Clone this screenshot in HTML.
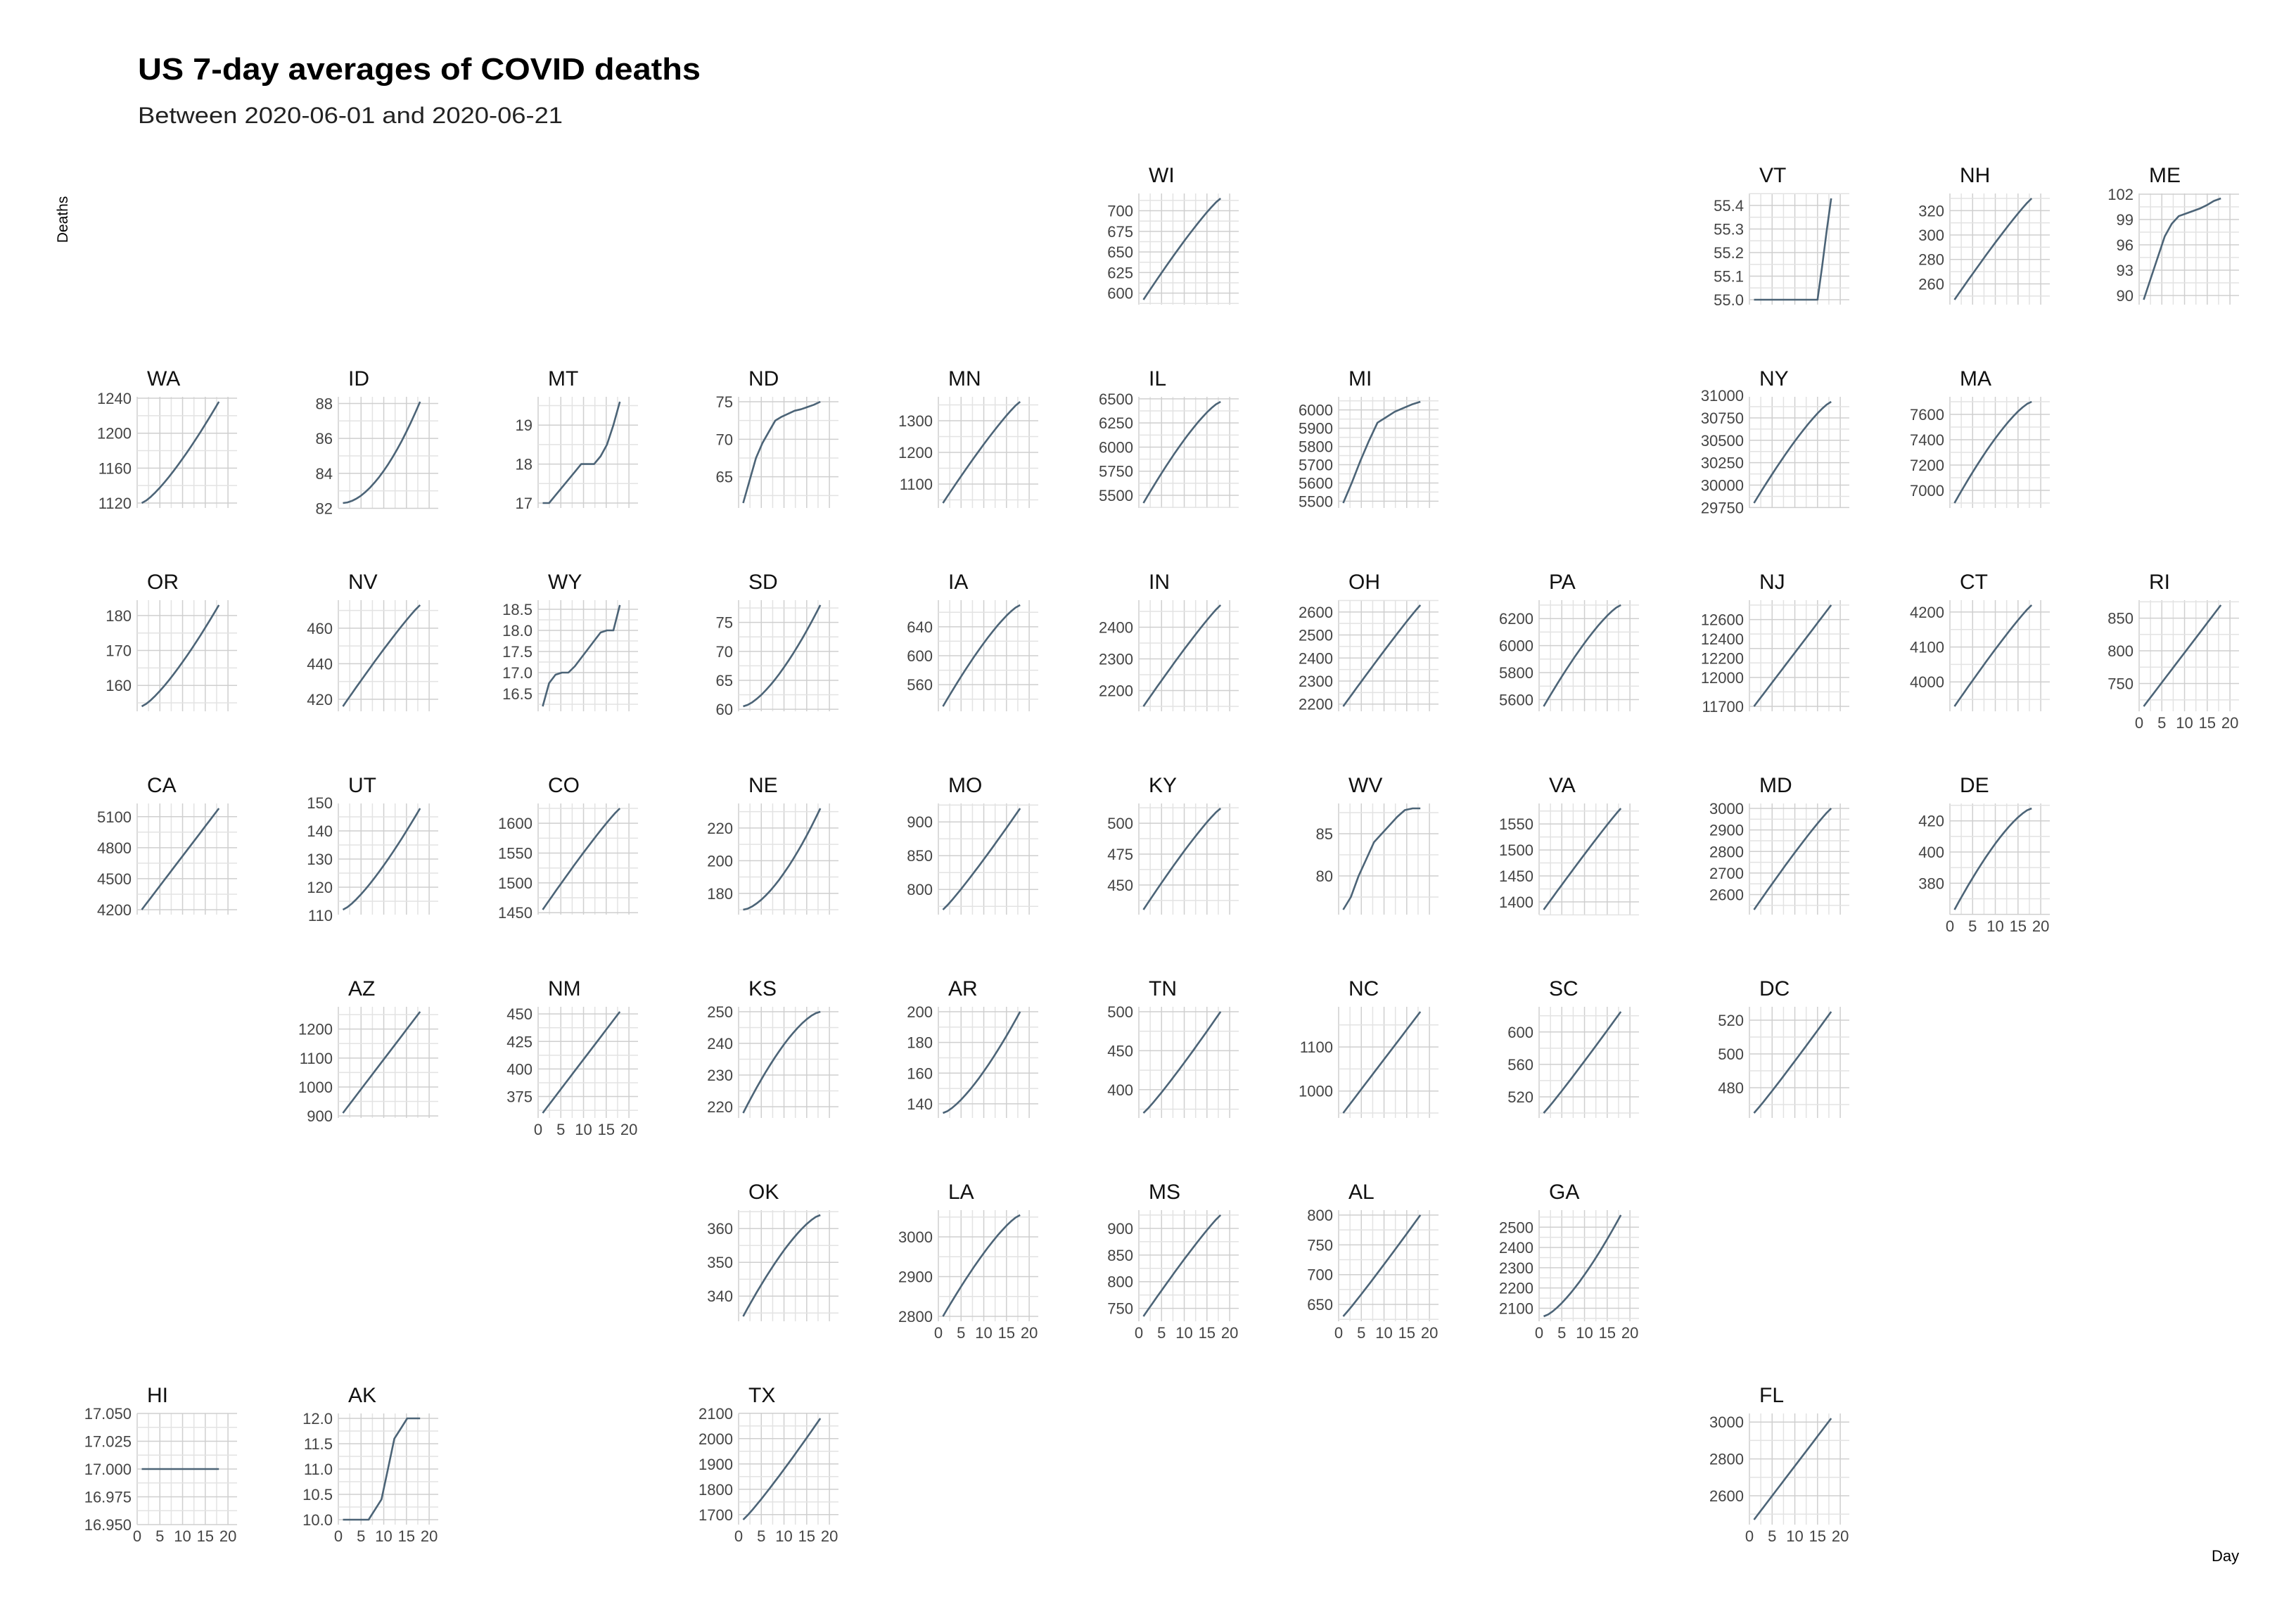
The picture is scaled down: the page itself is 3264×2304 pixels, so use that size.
<!DOCTYPE html>
<html><head><meta charset="utf-8"><style>
html,body{margin:0;padding:0;background:#fff}
svg{display:block}
</style></head><body>
<svg id="s" xmlns="http://www.w3.org/2000/svg" width="3264" height="2304" viewBox="0 0 3264 2304" font-family="'Liberation Sans', sans-serif">
<rect width="3264" height="2304" fill="#fff"/>
<text x="196" y="113" font-size="44" font-weight="bold" fill="#000" textLength="800" lengthAdjust="spacingAndGlyphs">US 7-day averages of COVID deaths</text>
<text x="196" y="175" font-size="32" fill="#222" textLength="604" lengthAdjust="spacingAndGlyphs">Between 2020-06-01 and 2020-06-21</text>
<text transform="translate(96,312) rotate(-90)" text-anchor="middle" font-size="21" fill="#000">Deaths</text>
<text x="3144" y="2219" font-size="22" fill="#000">Day</text>
<g id="g"></g>
</svg>
<script>
var colX=[195,481,765,1050,1334,1619,1903,2188,2487,2772,3041];
var W=142,H=158;
function rowY(r){return 275+289*r;}
function gen(a,b,p){var o=[];for(var i=0;i<18;i++){var t=i/17;var f=p>=0?Math.pow(t,1+p):1-Math.pow(1-t,1-p);o.push(a+(b-a)*f);}return o;}
var P=[
["WI",5,0,["600","625","650","675","700"],gen(592,715,-0.15)],
["VT",8,0,["55.0","55.1","55.2","55.3","55.4"],[55,55,55,55,55,55,55,55,55,55,55,55,55,55,55,55.14,55.29,55.43]],
["NH",9,0,["260","280","300","320"],gen(247,330,-0.1)],
["ME",10,0,["90","93","96","99","102"],[89.5,92,94.5,97,98.5,99.4,99.7,100,100.3,100.7,101.2,101.5]],
["WA",0,1,["1120","1160","1200","1240"],gen(1120,1236,0.3)],
["ID",1,1,["82","84","86","88"],gen(82.3,88.1,0.8)],
["MT",2,1,["17","18","19"],[17,17,17.2,17.4,17.6,17.8,18,18,18,18.2,18.5,19,19.6]],
["ND",3,1,["65","70","75"],[61.5,64.5,67.5,69.5,71,72.5,73,73.4,73.8,74,74.3,74.6,75]],
["MN",4,1,["1100","1200","1300"],gen(1040,1360,-0.15)],
["IL",5,1,["5500","5750","6000","6250","6500"],gen(5420,6470,-0.3)],
["MI",6,1,["5500","5600","5700","5800","5900","6000"],[5490,5600,5720,5830,5930,5960,5990,6010,6030,6045]],
["NY",8,1,["29750","30000","30250","30500","30750","31000"],gen(29800,30930,-0.25)],
["MA",9,1,["7000","7200","7400","7600"],gen(6900,7700,-0.35)],
["OR",0,2,["160","170","180"],gen(154,183,0.3)],
["NV",1,2,["420","440","460"],gen(416,473,-0.1)],
["WY",2,2,["16.5","17.0","17.5","18.0","18.5"],[16.2,16.75,16.95,17,17,17.15,17.35,17.55,17.75,17.95,18,18,18.6]],
["SD",3,2,["60","65","70","75"],gen(60.5,78,0.5)],
["IA",4,2,["560","600","640"],gen(530,670,-0.3)],
["IN",5,2,["2200","2300","2400"],gen(2150,2470,-0.1)],
["OH",6,2,["2200","2300","2400","2500","2600"],gen(2190,2630,-0.05)],
["PA",7,2,["5600","5800","6000","6200"],gen(5550,6300,-0.3)],
["NJ",8,2,["11700","12000","12200","12400","12600"],gen(11700,12750,0)],
["CT",9,2,["4000","4100","4200"],gen(3930,4220,-0.1)],
["RI",10,2,["750","800","850"],gen(715,870,0),1],
["CA",0,3,["4200","4500","4800","5100"],gen(4200,5180,0)],
["UT",1,3,["110","120","130","140","150"],gen(112,148,0.3)],
["CO",2,3,["1450","1500","1550","1600"],gen(1455,1625,-0.1)],
["NE",3,3,["180","200","220"],gen(170,232,0.6)],
["MO",4,3,["800","850","900"],gen(770,920,0.1)],
["KY",5,3,["450","475","500"],gen(430,512,-0.15)],
["WV",6,3,["80","85"],[76,77.5,80,82,84,85,86,87,87.8,88,88]],
["VA",7,3,["1400","1450","1500","1550"],gen(1385,1580,-0.05)],
["MD",8,3,["2600","2700","2800","2900","3000"],gen(2530,3000,-0.1)],
["DE",9,3,["380","400","420"],gen(363,428,-0.4),1],
["AZ",1,4,["900","1000","1100","1200"],gen(910,1260,0)],
["NM",2,4,["375","400","425","450"],gen(360,452,0),1],
["KS",3,4,["220","230","240","250"],gen(218,250,-0.5)],
["AR",4,4,["140","160","180","200"],gen(134,200,0.4)],
["TN",5,4,["400","450","500"],gen(370,500,0.1)],
["NC",6,4,["1000","1100"],gen(950,1180,0)],
["SC",7,4,["520","560","600"],gen(500,625,0.05)],
["DC",8,4,["480","500","520"],gen(465,525,0.05)],
["OK",3,5,["340","350","360"],gen(334,364,-0.4)],
["LA",4,5,["2800","2900","3000"],gen(2800,3055,-0.3),1],
["MS",5,5,["750","800","850","900"],gen(735,925,-0.1),1],
["AL",6,5,["650","700","750","800"],gen(630,800,0.05),1],
["GA",7,5,["2100","2200","2300","2400","2500"],gen(2060,2560,0.4),1],
["HI",0,6,["16.950","16.975","17.000","17.025","17.050"],gen(17,17,0),1,[16.95,17.05]],
["AK",1,6,["10.0","10.5","11.0","11.5","12.0"],[10,10,10,10,10,10.2,10.4,11,11.6,11.8,12,12,12],1],
["TX",3,6,["1700","1800","1900","2000","2100"],gen(1680,2080,0.1),1],
["FL",8,6,["2600","2800","3000"],gen(2470,3020,0),1]
];
var out=[];
P.forEach(function(p){
  var x0=colX[p[1]],y0=rowY(p[2]),d=p[4];
  var lo=Math.min.apply(null,d),hi=Math.max.apply(null,d);
  var ys;
  if(p[6]){ys=function(v){return y0+H-(v-p[6][0])/(p[6][1]-p[6][0])*H;};}
  else{var sc=144/(hi-lo||1);ys=function(v){return y0+151-(v-lo)*sc;};}
  var xs=function(day){return x0+day*W/22;};
  for(var k=0;k<=8;k++){var gx=xs(k*2.5);out.push('<line x1="'+gx+'" y1="'+y0+'" x2="'+gx+'" y2="'+(y0+H)+'" stroke="'+(k%2?'#e3e3e3':'#cfcfcf')+'" stroke-width="1.5"/>');}
  var t=p[3].map(parseFloat),st=t.length>1?t[1]-t[0]:1;
  var hv=[];for(var v=t[0]-st;v<=t[t.length-1]+st+1e-9;v+=st/2)hv.push(v);
  hv.forEach(function(v,i){var gy=ys(v);if(gy<y0-0.5||gy>y0+H+0.5)return;var maj=Math.abs(((v-t[0])/st)-Math.round((v-t[0])/st))<1e-6;
    out.push('<line x1="'+x0+'" y1="'+gy+'" x2="'+(x0+W)+'" y2="'+gy+'" stroke="'+(maj?'#cfcfcf':'#e3e3e3')+'" stroke-width="1.5"/>');});
  p[3].forEach(function(s,i){var gy=ys(t[i]);out.push('<text x="'+(x0-8)+'" y="'+(gy+8)+'" text-anchor="end" font-size="22" fill="#444">'+s+'</text>');});
  var n=d.length,pts=d.map(function(v,i){return xs(1+17*i/(n-1)).toFixed(1)+','+ys(v).toFixed(1);});
  out.push('<polyline points="'+pts.join(' ')+'" fill="none" stroke="#4c6477" stroke-width="2.6" stroke-linejoin="round"/>');
  out.push('<text x="'+(x0+14)+'" y="'+(y0-16)+'" font-size="30" fill="#111">'+p[0]+'</text>');
  if(p[5]){[0,5,10,15,20].forEach(function(v){out.push('<text x="'+xs(v)+'" y="'+(y0+H+24)+'" text-anchor="middle" font-size="22" fill="#444">'+v+'</text>');});}
});
document.getElementById('g').innerHTML=out.join('');
</script>
</body></html>
